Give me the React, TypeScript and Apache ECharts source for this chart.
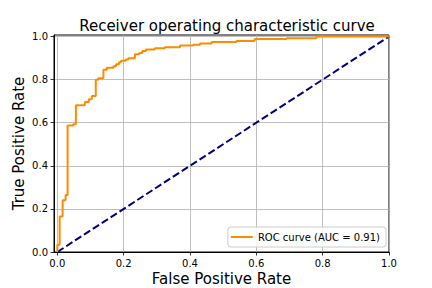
import React, { useEffect, useRef } from "react";
import * as echarts from "echarts";

const fpr = [0, 0, 0.007, 0.007, 0.016, 0.016, 0.025, 0.025, 0.031, 0.031, 0.048, 0.048, 0.056, 0.056, 0.083, 0.083, 0.095, 0.095, 0.104, 0.104, 0.116, 0.116, 0.123, 0.123, 0.139, 0.139, 0.149, 0.149, 0.169, 0.169, 0.177, 0.177, 0.186, 0.186, 0.192, 0.192, 0.206, 0.206, 0.214, 0.214, 0.234, 0.234, 0.247, 0.247, 0.256, 0.256, 0.267, 0.267, 0.294, 0.294, 0.324, 0.324, 0.37, 0.37, 0.41, 0.41, 0.43, 0.43, 0.465, 0.465, 0.54, 0.54, 0.595, 0.595, 0.691, 0.691, 0.781, 0.781, 1.0];
const tpr = [0, 0.034, 0.034, 0.165, 0.165, 0.24, 0.24, 0.264, 0.264, 0.587, 0.587, 0.593, 0.593, 0.681, 0.681, 0.696, 0.696, 0.709, 0.709, 0.724, 0.724, 0.799, 0.799, 0.806, 0.806, 0.846, 0.846, 0.855, 0.855, 0.862, 0.862, 0.871, 0.871, 0.881, 0.881, 0.887, 0.887, 0.893, 0.893, 0.899, 0.899, 0.918, 0.918, 0.924, 0.924, 0.933, 0.933, 0.94, 0.94, 0.946, 0.946, 0.95, 0.95, 0.958, 0.958, 0.962, 0.962, 0.967, 0.967, 0.975, 0.975, 0.979, 0.979, 0.988, 0.988, 0.992, 0.992, 1.0, 1.0];
const chanceX = [0, 1];
const chanceY = [0, 1];
const tickValues = [0, 0.2, 0.4, 0.6, 0.8, 1.0];
const rocLabel = "ROC curve (AUC = 0.91)";
const titleText = "Receiver operating characteristic curve";
const xName = "False Positive Rate";
const yName = "True Positive Rate";

const FONT = "DejaVu Sans";

export default function App() {
  const ref = useRef<HTMLDivElement>(null);
  useEffect(() => {
    if (!ref.current) return;
    const chart = echarts.init(ref.current, null, { renderer: "svg" });
    const axisCommon = {
      type: "value",
      axisLine: { show: true, onZero: false, lineStyle: { color: "#000", width: 1 } },
      axisTick: { show: true, inside: false, length: 3.5, lineStyle: { color: "#000", width: 0.8 }, customValues: tickValues },
      axisLabel: { customValues: tickValues, color: "#000", fontSize: 10, fontFamily: FONT, formatter: (v: number) => v.toFixed(1) },
      splitLine: { show: true, lineStyle: { color: "#b0b0b0", width: 0.8 } },
      nameLocation: "middle",
      nameMoveOverlap: false,
      nameTextStyle: { fontSize: 15, fontFamily: FONT, color: "#000" },
    };
    chart.setOption({
      animation: false,
      backgroundColor: "#fff",
      title: {
        text: titleText,
        left: 222,
        top: 13,
        textAlign: "center",
        textStyle: { fontSize: 15, fontWeight: "normal", fontFamily: FONT, color: "#000" },
      },
      grid: { left: 54, right: 43, top: 35, bottom: 36, outerBoundsMode: "none", containLabel: false, show: true, borderColor: "#000", borderWidth: 1, backgroundColor: "transparent" },
      legend: {
        data: [rocLabel],
        right: 46,
        bottom: 41,
        orient: "vertical",
        padding: [5, 6, 5, 3],
        icon: "rect",
        itemWidth: 22,
        itemHeight: 2,
        backgroundColor: "rgba(255,255,255,0.8)",
        borderColor: "#cccccc",
        borderWidth: 1,
        borderRadius: 3,
        textStyle: { fontSize: 10, fontFamily: FONT, color: "#000" },
      },
      xAxis: {
        ...axisCommon,
        min: -0.01,
        max: 1.0,
        name: xName,
        nameGap: 19,
        axisLabel: { ...axisCommon.axisLabel, margin: 6 },
      },
      yAxis: {
        ...axisCommon,
        min: 0,
        max: 1.007,
        name: yName,
        nameGap: 28,
        axisLabel: { ...axisCommon.axisLabel, margin: 6 },
      },
      series: [
        {
          name: rocLabel,
          type: "line",
          data: fpr.map((x, i) => [x, tpr[i]]),
          symbol: "none",
          lineStyle: { color: "#ff8c00", width: 2 },
          itemStyle: { color: "#ff8c00" },
          z: 3,
        },
        {
          name: "chance",
          type: "line",
          data: chanceX.map((x, i) => [x, chanceY[i]]),
          symbol: "none",
          lineStyle: { color: "#000080", width: 2, type: [7.4, 3.2] },
          itemStyle: { color: "#000080" },
          z: 2,
        },
      ],
    });
    return () => chart.dispose();
  }, []);
  return <div ref={ref} style={{ width: 432, height: 288, position: "absolute", left: 0, top: 0 }} />;
}
